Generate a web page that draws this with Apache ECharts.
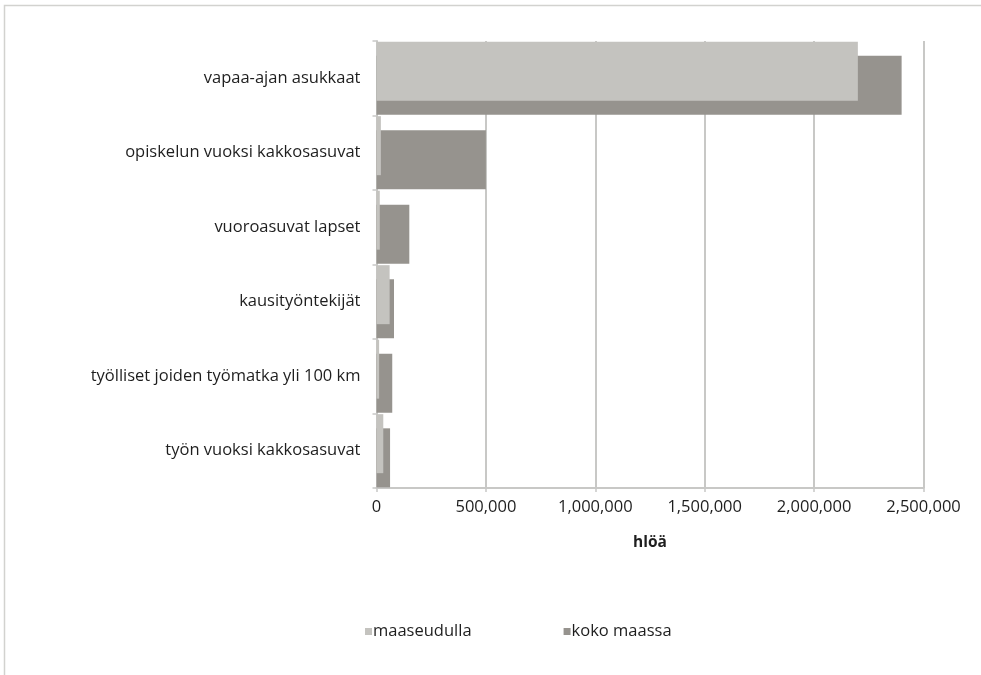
<!DOCTYPE html>
<html>
<head>
<meta charset="utf-8">
<script src="https://cdn.jsdelivr.net/npm/echarts@6/dist/echarts.min.js"></script>
<style>
html,body{margin:0;padding:0;background:#fff;}
#c{width:981px;height:675px;}
</style>
</head>
<body>
<div id="c"></div>
<script>
const categories = [
  "vapaa-ajan asukkaat",
  "opiskelun vuoksi kakkosasuvat",
  "vuoroasuvat lapset",
  "kausityöntekijät",
  "työlliset joiden työmatka yli 100 km",
  "työn vuoksi kakkosasuvat"
];
const seriesNames = ["maaseudulla", "koko maassa"];
const maaseudulla = [2200000, 20000, 15000, 60000, 12000, 31000];
const kokoMaassa = [2400000, 500000, 150000, 80000, 72000, 62000];
const xTicks = { min: 0, max: 2500000, interval: 500000 };
const axisName = "hlöä";

const FONT = "Open Sans";
const TXT = '#1e1e1e';
const chart = echarts.init(document.getElementById('c'), null, { renderer: 'canvas' });
const fmt = v => v.toLocaleString('en-US');

chart.setOption({
  animation: false,
  backgroundColor: '#fff',
  textStyle: { fontFamily: FONT },
  graphic: [{
    type: 'rect',
    shape: { x: 4.5, y: 5.5, width: 1200, height: 1000 },
    style: { fill: 'none', stroke: '#d2d2cf', lineWidth: 1.5 },
    silent: true
  }],
  grid: { left: 376.5, right: 57.5, top: 41, bottom: 187, containLabel: false },
  legend: {
    data: seriesNames,
    bottom: 30,
    left: 360,
    itemGap: 92,
    itemWidth: 7,
    itemHeight: 7,
    icon: 'rect',
    textStyle: { fontFamily: FONT, fontSize: 16.5, color: TXT, padding: [0, 0, 0, -4] }
  },
  xAxis: {
    type: 'value',
    min: xTicks.min, max: xTicks.max, interval: xTicks.interval,
    name: axisName,
    nameLocation: 'middle',
    nameGap: 47,
    nameTextStyle: { fontFamily: FONT, fontSize: 15.5, fontWeight: 'bold', color: TXT },
    axisLine: { show: true, lineStyle: { color: '#c8c8c6', width: 2 } },
    axisTick: { show: true, length: 4, lineStyle: { color: '#c8c8c6', width: 1.5 } },
    splitLine: { show: true, lineStyle: { color: '#c8c8c6', width: 2 } },
    axisLabel: { formatter: fmt, margin: 11, fontFamily: FONT, fontSize: 16.5, color: TXT }
  },
  yAxis: {
    type: 'category',
    data: categories,
    inverse: true,
    axisLine: { show: true, lineStyle: { color: '#c8c8c6', width: 2 } },
    axisTick: { show: true, length: 4, lineStyle: { color: '#c8c8c6', width: 1.5 } },
    axisLabel: { margin: 16, fontFamily: FONT, fontSize: 16.5, color: TXT, padding: [4, 0, 0, 0] }
  },
  series: [
    {
      name: seriesNames[0], type: 'bar', data: maaseudulla,
      barWidth: 59, barGap: '-76%', z: 3,
      itemStyle: { color: '#c4c3bf' }
    },
    {
      name: seriesNames[1], type: 'bar', data: kokoMaassa,
      barWidth: 59, barGap: '-76%', z: 2,
      itemStyle: { color: '#96938e' }
    }
  ]
});
</script>
</body>
</html>
